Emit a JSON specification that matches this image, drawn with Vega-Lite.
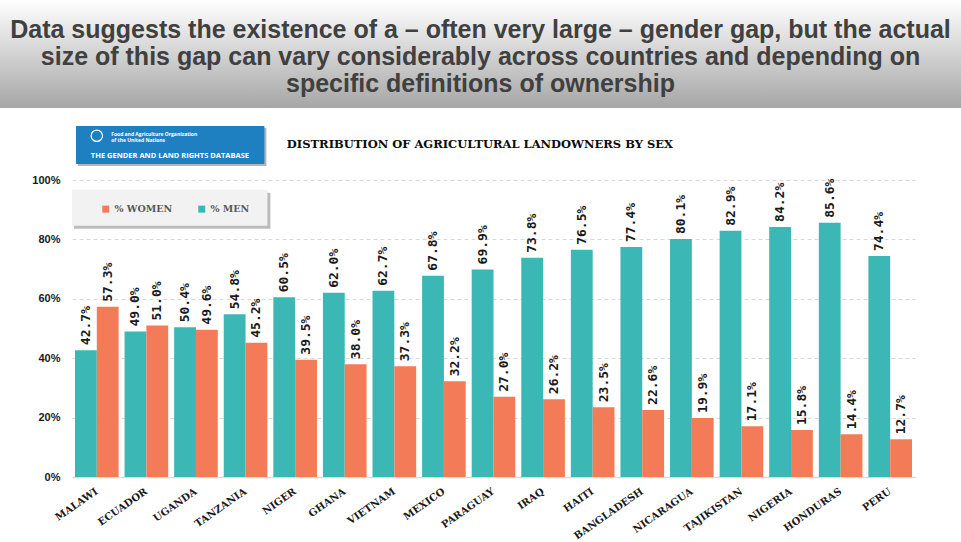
{
  "$schema": "https://vega.github.io/schema/vega-lite/v6.json",
  "padding": 0,
  "background": "#ffffff",
  "config": {"view": {"stroke": null}},
  "columns": 1,
  "align": "none",
  "spacing": 17,
  "resolve": {"legend": {"color": "independent"}},
  "concat": [
    {
      "width": 961,
      "height": 108,
      "data": {"values": [{"headline": "Data suggests the existence of a – often very large –  gender gap, but the actual\nsize of this gap can vary considerably across countries and depending on\nspecific definitions of ownership"}]},
      "layer": [
        {
          "mark": {"type": "rect", "fill": {"gradient": "linear", "x1": 0, "y1": 0, "x2": 0, "y2": 1, "stops": [{"offset": 0, "color": "#ffffff"}, {"offset": 1, "color": "#a6a6a6"}]}},
          "encoding": {}
        },
        {
          "mark": {"type": "text", "lineBreak": "\n", "font": "Liberation Sans", "fontWeight": "bold", "fontSize": 25, "lineHeight": 27, "color": "#404040", "align": "center", "baseline": "middle", "dy": -24},
          "encoding": {"text": {"field": "headline", "type": "nominal"}}
        }
      ]
    },
    {
      "width": 915,
      "height": 297,
      "data": {"values": [
        {"country": "Malawi", "sex": "% MEN", "value": 0.427}, {"country": "Malawi", "sex": "% WOMEN", "value": 0.573},
        {"country": "Ecuador", "sex": "% MEN", "value": 0.490}, {"country": "Ecuador", "sex": "% WOMEN", "value": 0.510},
        {"country": "Uganda", "sex": "% MEN", "value": 0.504}, {"country": "Uganda", "sex": "% WOMEN", "value": 0.496},
        {"country": "Tanzania", "sex": "% MEN", "value": 0.548}, {"country": "Tanzania", "sex": "% WOMEN", "value": 0.452},
        {"country": "Niger", "sex": "% MEN", "value": 0.605}, {"country": "Niger", "sex": "% WOMEN", "value": 0.395},
        {"country": "Ghana", "sex": "% MEN", "value": 0.620}, {"country": "Ghana", "sex": "% WOMEN", "value": 0.380},
        {"country": "Vietnam", "sex": "% MEN", "value": 0.627}, {"country": "Vietnam", "sex": "% WOMEN", "value": 0.373},
        {"country": "Mexico", "sex": "% MEN", "value": 0.678}, {"country": "Mexico", "sex": "% WOMEN", "value": 0.322},
        {"country": "Paraguay", "sex": "% MEN", "value": 0.699}, {"country": "Paraguay", "sex": "% WOMEN", "value": 0.270},
        {"country": "Iraq", "sex": "% MEN", "value": 0.738}, {"country": "Iraq", "sex": "% WOMEN", "value": 0.262},
        {"country": "Haiti", "sex": "% MEN", "value": 0.765}, {"country": "Haiti", "sex": "% WOMEN", "value": 0.235},
        {"country": "Bangladesh", "sex": "% MEN", "value": 0.774}, {"country": "Bangladesh", "sex": "% WOMEN", "value": 0.226},
        {"country": "Nicaragua", "sex": "% MEN", "value": 0.801}, {"country": "Nicaragua", "sex": "% WOMEN", "value": 0.199},
        {"country": "Tajikistan", "sex": "% MEN", "value": 0.829}, {"country": "Tajikistan", "sex": "% WOMEN", "value": 0.171},
        {"country": "Nigeria", "sex": "% MEN", "value": 0.842}, {"country": "Nigeria", "sex": "% WOMEN", "value": 0.158},
        {"country": "Honduras", "sex": "% MEN", "value": 0.856}, {"country": "Honduras", "sex": "% WOMEN", "value": 0.144},
        {"country": "Peru", "sex": "% MEN", "value": 0.744}, {"country": "Peru", "sex": "% WOMEN", "value": 0.127}
      ]},
      "layer": [
        {
          "mark": {"type": "bar"},
          "encoding": {
            "x": {"field": "country", "type": "nominal", "title": null,
              "scale": {"domain": ["Malawi", "Ecuador", "Uganda", "Tanzania", "Niger", "Ghana", "Vietnam", "Mexico", "Paraguay", "Iraq", "Haiti", "Bangladesh", "Nicaragua", "Tajikistan", "Nigeria", "Honduras", "Peru"], "range": [72, 915], "paddingInner": 0.12, "paddingOuter": 0.06},
              "axis": {"labelExpr": "upper(datum.label)", "labelAngle": -35, "labelAlign": "right", "labelBaseline": "middle", "labelPadding": 13, "labelFont": "DejaVu Serif", "labelFontWeight": "bold", "labelFontSize": 10, "labelColor": "#1a1a1a", "ticks": false, "domainColor": "#d9d9d9", "domainWidth": 1.5, "labelOverlap": false, "labelLimit": 200, "grid": false}},
            "xOffset": {"field": "sex", "type": "nominal", "scale": {"domain": ["% MEN", "% WOMEN"]}},
            "y": {"field": "value", "type": "quantitative", "scale": {"domain": [0, 1]},
              "axis": {"values": [0, 0.2, 0.4, 0.6, 0.8, 1], "format": ".0%", "offset": -72, "labelFont": "Liberation Sans", "labelFontWeight": "bold", "labelFontSize": 11, "labelColor": "#1a1a1a", "labelPadding": 12, "ticks": false, "domain": false, "gridColor": "#d9d9d9", "gridDash": [4, 3], "gridWidth": 1, "title": null}},
            "color": {"field": "sex", "type": "nominal",
              "scale": {"domain": ["% WOMEN", "% MEN"], "range": ["#F47B57", "#3BB8B5"]},
              "legend": {"orient": "none", "legendX": 101, "legendY": 24, "direction": "horizontal", "title": null, "symbolType": "square", "symbolSize": 49, "symbolStrokeWidth": 0, "labelFont": "DejaVu Serif", "labelFontWeight": "bold", "labelFontSize": 9.5, "labelColor": "#595959", "columnPadding": 24, "labelOffset": 4, "padding": 0}}
          }
        },
        {
          "mark": {"type": "text", "angle": 270, "align": "left", "baseline": "middle", "dx": 5, "font": "DejaVu Sans Mono", "fontWeight": "bold", "fontSize": 13, "color": "#1a1a1a"},
          "encoding": {
            "x": {"field": "country", "type": "nominal"},
            "xOffset": {"field": "sex", "type": "nominal"},
            "y": {"field": "value", "type": "quantitative"},
            "text": {"field": "value", "type": "quantitative", "format": ".1%"}
          }
        },
        {
          "data": {"values": [{}]},
          "mark": {"type": "rect", "fill": "#bcbcbc", "xOffset": -1, "x2Offset": 3, "yOffset": 3, "y2Offset": 3},
          "encoding": {"x": {"datum": "Malawi", "bandPosition": 0}, "x2": {"datum": "Tanzania", "bandPosition": 1}, "y": {"datum": 0.967}, "y2": {"datum": 0.846}}
        },
        {
          "data": {"values": [{}]},
          "mark": {"type": "rect", "fill": "#f2f2f2", "xOffset": -3, "x2Offset": 0},
          "encoding": {"x": {"datum": "Malawi", "bandPosition": 0}, "x2": {"datum": "Tanzania", "bandPosition": 1}, "y": {"datum": 0.967}, "y2": {"datum": 0.846}}
        },
        {
          "data": {"values": [{}]},
          "mark": {"type": "rect", "fill": "#b5b5b5", "xOffset": 3, "x2Offset": -1, "yOffset": 2, "y2Offset": 2},
          "encoding": {"x": {"datum": "Malawi", "bandPosition": 0}, "x2": {"datum": "Tanzania", "bandPosition": 1}, "y": {"datum": 1.182}, "y2": {"datum": 1.054}}
        },
        {
          "data": {"values": [{}]},
          "mark": {"type": "rect", "fill": "#1f80c1", "xOffset": 1, "x2Offset": -3},
          "encoding": {"x": {"datum": "Malawi", "bandPosition": 0}, "x2": {"datum": "Tanzania", "bandPosition": 1}, "y": {"datum": 1.182}, "y2": {"datum": 1.054}}
        },
        {
          "data": {"values": [{}]},
          "mark": {"type": "point", "shape": "circle", "size": 130, "filled": false, "stroke": "#ffffff", "strokeWidth": 1.2, "opacity": 1},
          "encoding": {"x": {"datum": "Malawi", "bandPosition": 0.5}, "y": {"datum": 1.149}}
        },
        {
          "data": {"values": [{"t": "Food and Agriculture Organization\nof the United Nations"}]},
          "mark": {"type": "text", "lineBreak": "\n", "align": "left", "baseline": "middle", "font": "Open Sans", "fontWeight": "bold", "fontSize": 5, "lineHeight": 6, "dy": -3, "color": "#ffffff"},
          "encoding": {"x": {"datum": "Malawi", "bandPosition": 0.83}, "y": {"datum": 1.146}, "text": {"field": "t", "type": "nominal"}}
        },
        {
          "data": {"values": [{"t": "THE GENDER AND LAND RIGHTS DATABASE"}]},
          "mark": {"type": "text", "align": "center", "baseline": "middle", "font": "Open Sans", "fontWeight": "bold", "fontSize": 7.5, "color": "#ffffff"},
          "encoding": {"x": {"datum": "Ecuador", "bandPosition": 1.04}, "y": {"datum": 1.082}, "text": {"field": "t", "type": "nominal"}}
        },
        {
          "data": {"values": [{"t": "DISTRIBUTION OF AGRICULTURAL LANDOWNERS BY SEX"}]},
          "mark": {"type": "text", "align": "left", "baseline": "alphabetic", "font": "DejaVu Serif", "fontWeight": "bold", "fontSize": 11.5, "color": "#0d0d0d"},
          "encoding": {"x": {"datum": "Niger", "bandPosition": 0.31}, "y": {"datum": 1.108}, "text": {"field": "t", "type": "nominal"}}
        }
      ]
    }
  ]
}
